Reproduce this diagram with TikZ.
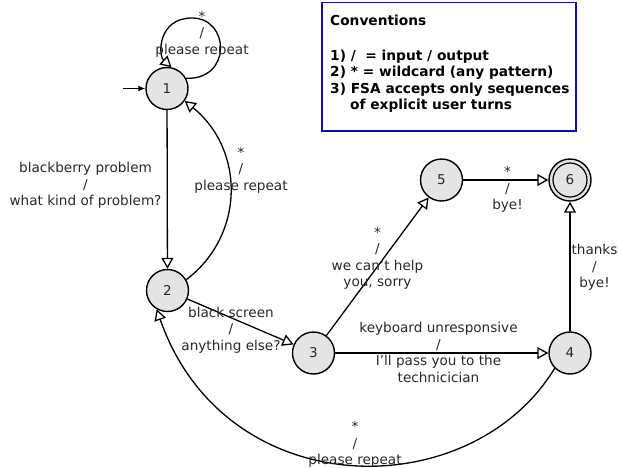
\documentclass[tikz,border=0pt]{standalone}
\usepackage{fontspec}
\setmainfont{DejaVu Sans}
\usetikzlibrary{arrows.meta}
\definecolor{nodegray}{RGB}{228,228,228}
\definecolor{txtgray}{RGB}{40,40,40}
\definecolor{boxblue}{RGB}{15,15,175}
\begin{document}
\begin{tikzpicture}[x=1pt,y=-1pt,
  state/.style={circle,draw=black,line width=1.4pt,fill=nodegray,minimum size=42pt,inner sep=0pt,text=txtgray,font=\fontsize{13.5}{16}\selectfont},
  trans/.style={line width=1.3pt,-{Triangle[length=11pt,width=12pt,fill=white]}},
  lbl/.style={align=center,inner sep=0pt,text=txtgray,font=\fontsize{13.6}{16.5}\selectfont},
  boxline/.style={draw=boxblue,line width=1.8pt}]
\useasboundingbox (0,0) rectangle (618,467);
% box
\draw[boxline] (322,2.5) rectangle (576,131);
\node[anchor=north west,inner sep=0pt,align=left,font=\bfseries\fontsize{13.75}{16.5}\selectfont,text=black] (conv) at (330,14.5)
  {Conventions\\[18.5pt]1) /\ \ = input / output\\2) * = wildcard (any pattern)\\3) FSA accepts only sequences\\\hspace*{20pt}of explicit user turns};
% states
\node[state] (n1) at (167,88.5) {1};
\node[state] (n2) at (167.5,290.5) {2};
\node[state] (n3) at (313.5,353) {3};
\node[state] (n4) at (570,353) {4};
\node[state] (n5) at (441.5,180) {5};
\node[state] (n6) at (570,180) {6};
\draw[line width=1.2pt] (n6.center) circle[radius=17pt];
\coordinate (start) at (123,88.5);
\coordinate (looptop) at (192,18);
% transitions
\draw[line width=1.3pt,-{Latex[length=7pt,width=6pt]}] (start) -- (n1);
\draw[trans] (n1.28) .. controls (232,80) and (230,18) .. (looptop)
  .. controls (158,18) and (158,55) .. (n1.78);
\node[lbl] (l11) at (202,34) {*\\/\\please repeat};
\draw[trans] (n1) -- (n2);
\node[lbl] (l12) at (85.5,185.5) {blackberry problem\\/\\what kind of problem?};
\draw[trans] (n2.30) .. controls (245,235) and (245,150) .. (n1.-35);
\node[lbl] (l21) at (241,170) {*\\/\\please repeat};
\draw[trans] (n2) -- (n3);
\node[lbl] (l23) at (231,330) {black screen\\/\\anything else?};
\draw[trans] (n3) -- (n5);
\node[lbl] (l35) at (377.5,258.5) {*\\/\\we can't help\\you, sorry};
\draw[trans] (n3) -- (n4);
\node[lbl] (l34) at (438.5,352.5) {keyboard unresponsive\\/\\I'll pass you to the\\technicician};
\draw[trans] (n5) -- (n6);
\node[lbl] (l56) at (507.5,189.5) {*\\/\\bye!};
\draw[trans] (n4) -- (n6);
\node[lbl] (l46) at (594.5,267.5) {thanks\\/\\bye!};
\draw[trans] (n4.-135) .. controls (470,507) and (225,505) .. (n2.-120);
\node[lbl] (l42) at (355,444.5) {*\\/\\please repeat};
\end{tikzpicture}
\end{document}
